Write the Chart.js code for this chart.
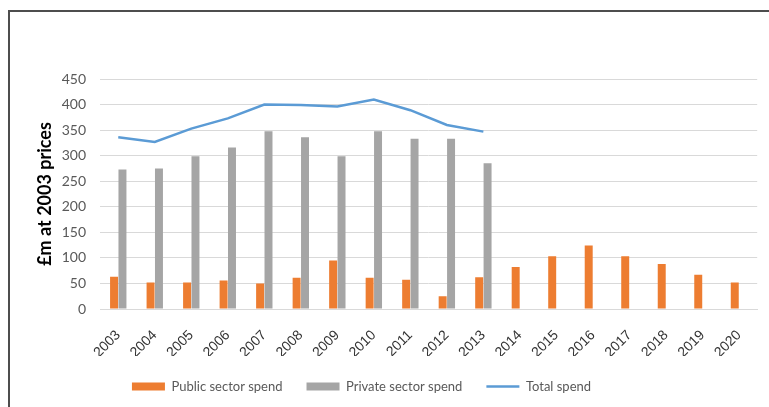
<!DOCTYPE html>
<html>
<head>
<meta charset="utf-8">
<script src="https://cdn.jsdelivr.net/npm/chart.js@4.4.1/dist/chart.umd.min.js"></script>
<style>
  html, body { margin: 0; padding: 0; background: #ffffff; }
  #wrap { position: relative; width: 769px; height: 407px; }
  #frame {
    position: absolute; left: 8px; top: 10px; right: -4px; bottom: -4px;
    border: 2px solid #4d4d4d; pointer-events: none;
  }
  canvas { display: block; }
</style>
</head>
<body>
<div id="wrap">
  <canvas id="chart" width="769" height="407"></canvas>
  <div id="frame"></div>
</div>
<script>
// Years on the horizontal axis
const years = ['2003', '2004', '2005', '2006', '2007', '2008', '2009', '2010', '2011',
               '2012', '2013', '2014', '2015', '2016', '2017', '2018', '2019', '2020'];

// Spend in £m at 2003 prices
const publicSpend  = [63, 52, 52, 56, 50, 61, 95, 61, 57, 25, 62, 82, 103, 124, 103, 88, 67, 52];
const privateSpend = [273, 275, 299, 316, 348, 336, 299, 348, 333, 333, 285,
                      null, null, null, null, null, null, null];
const totalSpend   = [336, 327, 353, 373, 400, 399, 396, 410, 389, 360, 347,
                      null, null, null, null, null, null, null];

// Value axis ticks
const yTicks = [0, 50, 100, 150, 200, 250, 300, 350, 400, 450];

const ORANGE = '#ed7d31';
const GREY = '#a5a5a5';
const BLUE = '#5b9bd5';
const TEXT = '#595959';

// Nudges the legend row left so it sits under the plot's centre of mass
const legendOffset = {
  id: 'legendOffset',
  afterLayout(chart) {
    const lg = chart.legend;
    if (lg) { lg.left -= 25; lg.right -= 25; }
  }
};

new Chart(document.getElementById('chart'), {
  data: {
    labels: years,
    datasets: [
      {
        type: 'bar',
        label: 'Public sector spend',
        data: publicSpend,
        backgroundColor: ORANGE,
        borderWidth: 0,
        pointStyle: 'rect',
        categoryPercentage: 0.46,
        barPercentage: 0.95
      },
      {
        type: 'bar',
        label: 'Private sector spend',
        data: privateSpend,
        backgroundColor: GREY,
        borderWidth: 0,
        pointStyle: 'rect',
        categoryPercentage: 0.46,
        barPercentage: 0.95
      },
      {
        type: 'line',
        label: 'Total spend',
        data: totalSpend,
        borderColor: BLUE,
        backgroundColor: BLUE,
        borderWidth: 2.5,
        pointRadius: 0,
        pointStyle: 'line',
        tension: 0,
        fill: false,
        spanGaps: false
      }
    ]
  },
  plugins: [legendOffset],
  options: {
    responsive: false,
    animation: false,
    layout: { padding: { left: 10, right: 6, top: 79, bottom: 4 } },
    plugins: {
      tooltip: { enabled: false },
      legend: {
        position: 'bottom',
        labels: {
          usePointStyle: true,
          pointStyleWidth: 33,
          boxHeight: 8,
          padding: 24,
          color: TEXT,
          font: { family: 'Lato', size: 13 }
        }
      }
    },
    scales: {
      x: {
        grid: { display: false, drawTicks: false },
        border: { display: true, color: '#d9d9d9', width: 1 },
        ticks: {
          color: '#333333',
          font: { family: 'Liberation Sans', size: 14 },
          minRotation: 45,
          maxRotation: 45,
          padding: 18,
          autoSkip: false
        },
        afterFit: (s) => { s.height = 47; }
      },
      y: {
        min: 0,
        max: 450,
        afterBuildTicks: (s) => { s.ticks = yTicks.map(v => ({ value: v })); },
        grid: { color: '#d9d9d9', lineWidth: 1, drawTicks: false },
        border: { display: false },
        ticks: {
          color: TEXT,
          font: { family: 'Lato', size: 14 },
          padding: 14
        },
        title: {
          display: true,
          text: '£m at 2003 prices',
          color: '#000000',
          font: { family: 'Lato', size: 18, weight: 'bold' },
          padding: { top: 24, bottom: 0 }
        },
        afterFit: (s) => { s.width = 90; }
      }
    }
  }
});
</script>
</body>
</html>
